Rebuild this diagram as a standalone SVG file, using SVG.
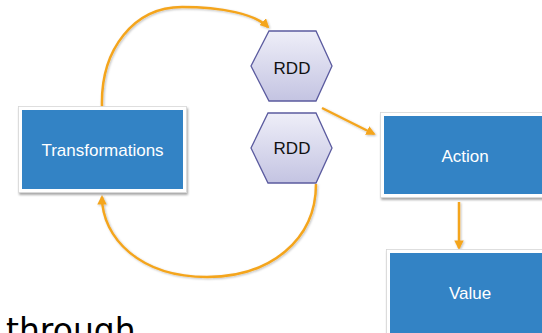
<svg xmlns="http://www.w3.org/2000/svg" width="542" height="333" viewBox="0 0 542 333">
<style>
.frame{fill:#ffffff;stroke:#d6d6d6;stroke-width:0.8;filter:url(#sh)}
.box{fill:#3383c5}
.lbl{font-family:"Liberation Sans",Arial,sans-serif;font-size:17px;fill:#ffffff;text-anchor:middle}
.hex{fill:url(#hg);stroke:#5b5b9f;stroke-width:1.3}
.hlbl{font-family:"Liberation Sans",Arial,sans-serif;font-size:17px;fill:#111111;text-anchor:middle}
.edge{fill:none;stroke:#f4a51f;stroke-width:2.5;marker-end:url(#ah);filter:url(#esh)}
</style>
<defs>
<linearGradient id="hg" x1="0" y1="0" x2="0" y2="1">
<stop offset="0" stop-color="#eeeef8"/>
<stop offset="1" stop-color="#c4c4e2"/>
</linearGradient>
<filter id="sh" x="-10%" y="-10%" width="130%" height="130%">
<feDropShadow dx="1" dy="2" stdDeviation="1.2" flood-color="#000" flood-opacity="0.35"/>
</filter>
<filter id="esh" filterUnits="userSpaceOnUse" x="0" y="0" width="542" height="333">
<feDropShadow dx="1" dy="1" stdDeviation="0.8" flood-color="#000" flood-opacity="0.25"/>
</filter>
<marker id="ah" viewBox="0 0 10 10" refX="8" refY="5" markerWidth="3.8" markerHeight="3.8" orient="auto" markerUnits="strokeWidth">
<path d="M0,0 L10,5 L0,10 z" fill="#f4a51f"/>
</marker>
</defs>

<g id="connectors">
<path class="edge" d="M102,108 C100,48 135,7 182,7 C222,7 255,14 268,27"/>
<path class="edge" d="M316,184 C316,240 270,277 207,277 C140,277 102,238 102,197"/>
<path class="edge" d="M322,108 L374,134"/>
<path class="edge" d="M459,202 L459,248"/>
</g>

<g id="transformations">
<rect class="frame" x="18.5" y="106.5" width="168" height="86"/>
<rect class="box" x="22" y="110" width="161" height="79"/>
<text class="lbl" x="102.5" y="156">Transformations</text>
</g>

<g id="rdd1">
<polygon class="hex" points="269,31 316,31 332,66 316,101 269,101 251,66"/>
<text class="hlbl" x="292" y="74">RDD</text>
</g>

<g id="rdd2">
<polygon class="hex" points="268,113 316,113 332,148 316,183 268,183 251,148"/>
<text class="hlbl" x="292" y="154">RDD</text>
</g>

<g id="action">
<rect class="frame" x="380.5" y="112.5" width="170" height="85"/>
<rect class="box" x="384" y="116" width="162" height="78"/>
<text class="lbl" x="465" y="162">Action</text>
</g>

<g id="value">
<rect class="frame" x="386.5" y="249.5" width="170" height="90"/>
<rect class="box" x="390" y="253" width="162" height="82"/>
<text class="lbl" x="470" y="299">Value</text>
</g>

<text x="6" y="342" font-family="'DejaVu Sans',sans-serif" font-size="33" fill="#000000">through</text>
</svg>
